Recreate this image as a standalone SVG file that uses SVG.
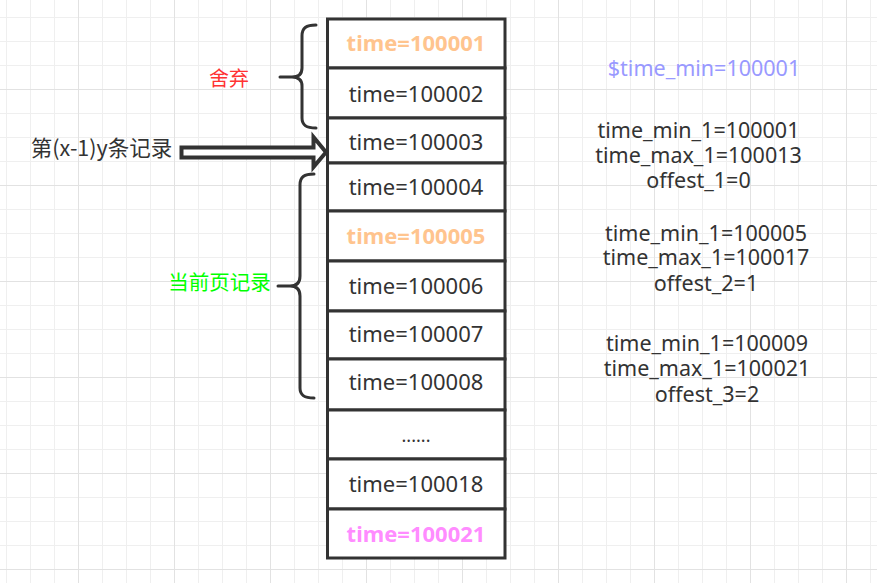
<svg xmlns="http://www.w3.org/2000/svg" width="877" height="583" viewBox="0 0 877 583">
<defs>
<pattern id="grid" x="-18" y="-7" width="96" height="96" patternUnits="userSpaceOnUse">
<path d="M24.5,0V96M48.5,0V96M72.5,0V96M0,24.5H96M0,48.5H96M0,72.5H96" stroke="#efefef" stroke-width="1" fill="none"/>
<path d="M0.5,0V96M0,0.5H96" stroke="#e2e2e2" stroke-width="1" fill="none"/>
</pattern>
<style>
.cell{fill:#fff;stroke:#333;stroke-width:3}
.t{font-family:"Noto Sans","Noto Sans CJK SC",sans-serif;font-size:22px;fill:#333;text-anchor:middle}
.b{font-weight:bold}
.r{font-family:"Noto Sans","Noto Sans CJK SC",sans-serif;font-size:21.5px;fill:#333;text-anchor:middle}
.lbl{font-family:"Noto Sans CJK SC","Noto Sans",sans-serif;font-size:20px}
.br{fill:none;stroke:#333;stroke-width:3;stroke-linecap:round;stroke-linejoin:round}
</style>
</defs>
<rect width="877" height="583" fill="#fff"/>
<rect width="877" height="583" fill="url(#grid)"/>

<g id="row1"><rect class="cell" x="327.5" y="19" width="177.5" height="49"/><text class="t b" x="416" y="51" style="fill:#ffc48e">time=100001</text></g>
<g id="row2"><rect class="cell" x="327.5" y="68" width="177.5" height="50"/><text class="t" x="416" y="101.5">time=100002</text></g>
<g id="row3"><rect class="cell" x="327.5" y="118" width="177.5" height="45"/><text class="t" x="416" y="150">time=100003</text></g>
<g id="row4"><rect class="cell" x="327.5" y="163" width="177.5" height="48"/><text class="t" x="416" y="195">time=100004</text></g>
<g id="row5"><rect class="cell" x="327.5" y="211" width="177.5" height="50"/><text class="t b" x="416" y="243.5" style="fill:#ffc48e">time=100005</text></g>
<g id="row6"><rect class="cell" x="327.5" y="261" width="177.5" height="50"/><text class="t" x="416" y="293.5">time=100006</text></g>
<g id="row7"><rect class="cell" x="327.5" y="311" width="177.5" height="48"/><text class="t" x="416" y="342">time=100007</text></g>
<g id="row8"><rect class="cell" x="327.5" y="359" width="177.5" height="51"/><text class="t" x="416" y="390">time=100008</text></g>
<g id="row9"><rect class="cell" x="327.5" y="410" width="177.5" height="49"/><text class="t" x="416" y="442" style="font-size:18px">......</text></g>
<g id="row10"><rect class="cell" x="327.5" y="459" width="177.5" height="50"/><text class="t" x="416" y="492">time=100018</text></g>
<g id="row11"><rect class="cell" x="327.5" y="509" width="177.5" height="49"/><text class="t b" x="416" y="542" style="fill:#ff8cff">time=100021</text></g>

<g id="connectors">
<path class="br" d="M316,25 C306,25 302,28 302,36 L302,68 C302,74 299,77 292,77 L280,77 M292,77 C299,77 302,80 302,86 L302,118 C302,125 306,128 316,128"/>
<path class="br" d="M314,174 C304,174 300,177 300,185 L300,276 C300,282 297,286 290,286 L278,286 M290,286 C297,286 300,290 300,296 L300,388 C300,395 304,398 314,398"/>
<path d="M181.5,147.5 L313.5,147.5 L313.5,137 L326,152.3 L313.5,167 L313.5,157.5 L181.5,157.5 Z" fill="#fff" stroke="#333" stroke-width="4" stroke-linejoin="miter"/>
</g>

<g id="label-discard"><text class="lbl" x="229" y="86" text-anchor="middle" fill="#ff3333">舍弃</text></g>
<g id="label-record"><text class="lbl" x="101.5" y="156" text-anchor="middle" fill="#333" style="font-size:21.5px">第(x-1)y条记录</text></g>
<g id="label-current"><text class="lbl" x="219.5" y="290" text-anchor="middle" fill="#00ff00" style="font-size:20.5px">当前页记录</text></g>

<g id="info-min"><text class="r" x="704" y="76" style="fill:#9999ff">$time_min=100001</text></g>
<g id="info1">
<text class="r" x="698.5" y="137.5">time_min_1=100001</text>
<text class="r" x="698.5" y="162.5">time_max_1=100013</text>
<text class="r" x="698.5" y="188">offest_1=0</text>
</g>
<g id="info2">
<text class="r" x="706" y="240.5">time_min_1=100005</text>
<text class="r" x="706" y="265">time_max_1=100017</text>
<text class="r" x="706" y="291">offest_2=1</text>
</g>
<g id="info3">
<text class="r" x="707" y="351">time_min_1=100009</text>
<text class="r" x="707" y="376">time_max_1=100021</text>
<text class="r" x="707" y="401.5">offest_3=2</text>
</g>
</svg>
